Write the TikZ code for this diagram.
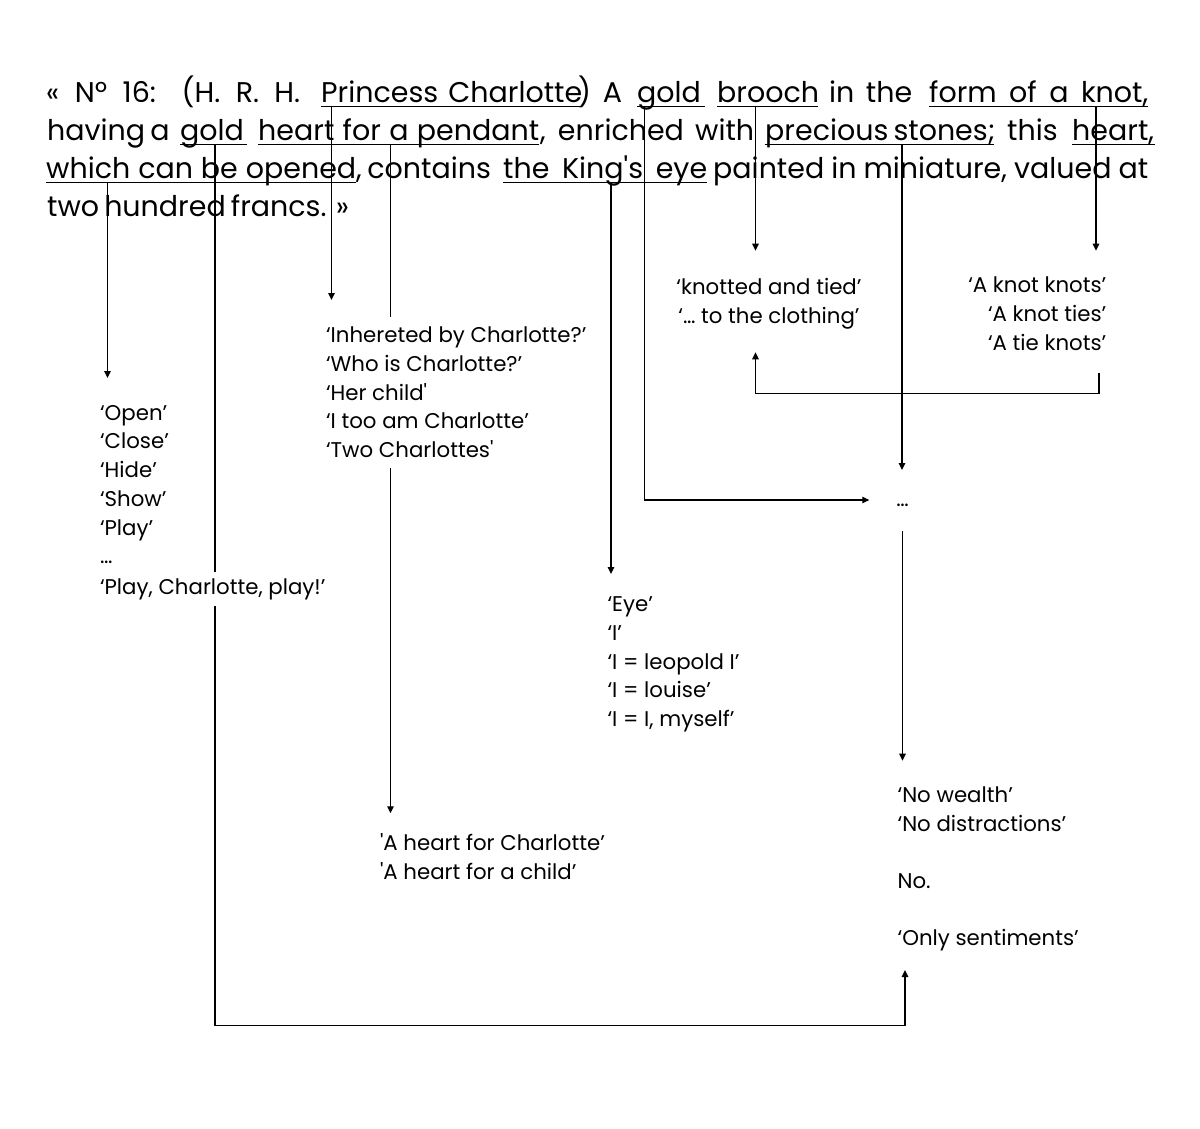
\documentclass[tikz,border=0pt]{standalone}
\usepackage{fontspec}
\setmainfont{Poppins}
\usetikzlibrary{arrows.meta,backgrounds}
\newcommand\myhd{\fontsize{28.5pt}{38pt}\selectfont}
\newcommand\mylst{\fontsize{21.3pt}{28.75pt}\selectfont}
\newcommand\sq{\textquotesingle}
\begin{document}
\begin{tikzpicture}[x=1pt,y=-1pt,
  hd/.style={font=\myhd, inner sep=0pt, anchor=base west},
  ls/.style={font=\mylst, inner sep=0pt, align=left, anchor=text},
  ul/.style={line width=1.2pt},
  conn/.style={line width=1.2pt, -{Triangle[length=7pt,width=6.5pt]}}]
\useasboundingbox (0,0) rectangle (1200,1128);
% header line 1
\node[hd] (h11) at (46,102.7) {\makebox[254pt][s]{« Nº 16: (H. R. H.}};
\node[hd] (u11) at (321,102.7) {\makebox[261pt][s]{Princess Charlotte}};
\node[hd] (h12) at (578,102.7) {\makebox[44pt][s]{) A}};
\node[hd] (u12) at (637,102.7) {\makebox[68pt][s]{gold}};
\node[hd] (u13) at (717,102.7) {\makebox[101pt][s]{brooch}};
\node[hd] (h13) at (829,102.7) {\makebox[83pt][s]{in the}};
\node[hd] (u14) at (929,102.7) {\makebox[219pt][s]{form of a knot,}};
% header line 2
\node[hd] (h21) at (47,140.5) {\makebox[118pt][s]{having a}};
\node[hd] (u21) at (180,140.5) {\makebox[67pt][s]{gold}};
\node[hd] (u22) at (258,140.5) {\makebox[281pt][s]{heart for a pendant}};
\node[hd] (h22) at (540,140.5) {\makebox[214pt][s]{, enriched with}};
\node[hd] (u23) at (765,140.5) {\makebox[229pt][s]{precious stones;}};
\node[hd] (h23) at (1007,140.5) {\makebox[53pt][s]{this}};
\node[hd] (u24) at (1072,140.5) {\makebox[83pt][s]{heart,}};
% header line 3
\node[hd] (u31) at (46,178.5) {\makebox[310pt][s]{which can be opened}};
\node[hd] (h31) at (356,178.5) {\makebox[134pt][s]{, contains}};
\node[hd] (u32) at (503,178.5) {\makebox[204pt][s]{the King\sq s eye}};
\node[hd] (h32) at (713,178.5) {\makebox[435pt][s]{painted in miniature, valued at}};
% header line 4
\node[hd] (h41) at (47,216.5) {\makebox[300pt][s]{two hundred francs. »}};
\foreach \n in {u11,u12,u13,u14,u21,u22,u23,u24,u31,u32}
  \draw[ul] ([yshift=-4pt]\n.base west) -- ([yshift=-4pt]\n.base east);
% lists (anchor text = baseline of the last line)
\node[ls] (open) at (100,563.75) {‘Open’\\‘Close’\\‘Hide’\\‘Show’\\‘Play’\\…};
\node[ls, fill=white, inner sep=6pt] (play) at (100,594) {‘Play, Charlotte, play!’};
\node[ls, fill=white, inner xsep=4pt, inner ysep=10pt] (inh) at (326,457.7)
  {‘Inhereted by Charlotte?’\\‘Who is Charlotte?’\\‘Her child\sq\\‘I too am Charlotte’\\‘Two Charlottes\sq};
\node[ls] (eye) at (607.5,726.7) {‘Eye’\\‘I’\\‘I = leopold I’\\‘I = louise’\\‘I = I, myself’};
\node[ls] (hrt) at (380,879.5) {\sq A heart for Charlotte’\\\sq A heart for a child’};
\node[ls, align=center, anchor=base] (knot1) at (769,323.3) {‘knotted and tied’\\‘… to the clothing’};
\node[ls, align=right, anchor=base east] (knots) at (1106.6,350) {‘A knot knots’\\‘A knot ties’\\‘A tie knots’};
\node[ls, anchor=base] (dots) at (902.5,506) {…};
\node[ls] (nw) at (897.6,945) {‘No wealth’\\‘No distractions’\\[28.2pt]No.\\[28.2pt]‘Only sentiments’};
% connector ends
\coordinate (s1) at ([xshift=61.5pt,yshift=-4pt]u31.base west);
\coordinate (s2) at ([xshift=35pt,yshift=-4pt]u21.base west);
\coordinate (s3) at ([xshift=10.5pt,yshift=-4pt]u11.base west);
\coordinate (s4) at ([xshift=132.5pt,yshift=-4pt]u22.base west);
\coordinate (s5) at ([xshift=108pt,yshift=-4pt]u32.base west);
\coordinate (s6) at ([xshift=7.5pt,yshift=-4pt]u12.base west);
\coordinate (s7) at ([xshift=38.5pt,yshift=-4pt]u13.base west);
\coordinate (s8) at ([xshift=137pt,yshift=-4pt]u23.base west);
\coordinate (s9) at ([xshift=167pt,yshift=-4pt]u14.base west);
\coordinate (b2) at (905,1025.7);
\coordinate (dl) at ([yshift=6pt]dots.text);
\coordinate (d2) at ([yshift=-25pt]dots.base);
\coordinate (k1) at ([xshift=-7.6pt,yshift=-22.7pt]knots.base east);
\coordinate (kt) at ([yshift=-29pt]knot1.base);
\begin{scope}[on background layer]
\fill[white] (0,0) rectangle (1200,1128);
\draw[conn,shorten >=185.75pt] (s1) -- (s1 |- open.text);
\draw[conn,shorten >=25pt] (s2) |- (b2) -- (b2 |- nw.text);
\draw[conn,shorten >=157.7pt] (s3) -- (s3 |- inh.text);
\draw[conn,shorten >=66.2pt] (s4) -- (s4 |- hrt.text);
\draw[conn,shorten >=152.7pt] (s5) -- (s5 |- eye.text);
\draw[conn,shorten >=27pt] (s6) |- (dl);
\draw[conn,shorten >=72.6pt] (s7) -- (s7 |- knot1.base);
\draw[conn,shorten >=36pt] (s8) -- (s8 |- dots.text);
\draw[conn,shorten >=99.3pt] (s9) -- (s9 |- knots.base);
\draw[conn] (k1) -- ++(0,20.6) -| (s7 |- kt);
\draw[conn,shorten >=184.3pt] (d2) -- (d2 |- nw.text);
\end{scope}
\end{tikzpicture}
\end{document}
